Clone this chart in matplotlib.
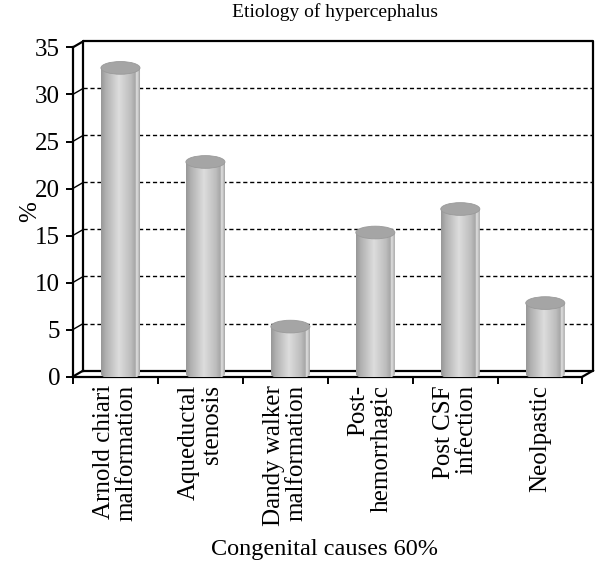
import numpy as np
import matplotlib
matplotlib.use("Agg")
import matplotlib.pyplot as plt
from matplotlib.path import Path
from matplotlib.patches import PathPatch, Ellipse
from matplotlib.colors import LinearSegmentedColormap

plt.rcParams['font.family'] = ['Liberation Serif', 'DejaVu Serif']

# datos
categorias = ["Arnold chiari\nmalformation", "Aqueductal\nstenosis",
              "Dandy walker\nmalformation", "Post-\nhemorrhagic",
              "Post CSF\ninfection", "Neolpastic"]
valores = [32.5, 22.5, 5.0, 15.0, 17.5, 7.5]
yticks = [0, 5, 10, 15, 20, 25, 30, 35]

# profundidad del efecto 3D (en unidades de datos)
dx, dy = 0.124, 0.65
ancho = 0.46      # ancho del cilindro
elip = 1.35       # alto de la elipse (unidades del eje y)
ymax = 35

fig = plt.figure(figsize=(5.96, 5.66), dpi=100)
ax = fig.add_axes([0.122, 0.3345, 0.873, 0.5925])
n = len(valores)

# ejes / spines
for s in ['top', 'right']:
    ax.spines[s].set_visible(False)
ax.spines['left'].set_bounds(0, ymax)
ax.spines['bottom'].set_bounds(0, n)
for s in ['left', 'bottom']:
    ax.spines[s].set_linewidth(1.6)
    ax.spines[s].set_zorder(2)

ax.set_yticks(yticks)
ax.set_yticklabels([str(t) for t in yticks], fontsize=18)
ax.tick_params(axis='y', direction='out', length=5, width=1.4, pad=4)
ax.set_xticks(np.arange(n + 1))
ax.set_xticklabels([])
ax.tick_params(axis='x', which='major', direction='out', length=5, width=1.4)
ax.set_xticks(np.arange(n) + 0.5, minor=True)
ax.set_xticklabels(categorias, minor=True, rotation=90, fontsize=18,
                   ha='center', va='top', multialignment='right', linespacing=1.05)
ax.tick_params(axis='x', which='minor', length=0, pad=6)

# pared del fondo y lineas de grilla
kw = dict(color='black', clip_on=False)
for t in yticks[1:-1]:
    ax.plot([dx, n + dx], [t + dy, t + dy], ls=(0, (3, 2)), lw=1.0, zorder=1, **kw)
for t in yticks[1:-1]:
    ax.plot([0, dx], [t, t + dy], lw=1.0, zorder=1, **kw)
ax.plot([dx, n + dx, n + dx, dx, dx], [dy, dy, ymax + dy, ymax + dy, dy], lw=1.6, zorder=1, **kw)
ax.plot([0, dx], [ymax, ymax + dy], lw=1.6, zorder=1, **kw)
ax.plot([0, dx], [0, dy], lw=1.6, zorder=1, **kw)
ax.plot([n, n + dx], [0, dy], lw=1.6, zorder=1, **kw)

# cilindros
cmap = LinearSegmentedColormap.from_list("cil", [
    (0.0, "#979797"), (0.12, "#b0b0b0"), (0.45, "#dddddd"),
    (0.75, "#bdbdbd"), (0.86, "#a6a6a6"), (0.89, "#e2e2e2"),
    (0.93, "#c8c8c8"), (1.0, "#8e8e8e")])
grad = np.linspace(0, 1, 256).reshape(1, -1)
theta = np.linspace(np.pi, 2 * np.pi, 60)
for i, v in enumerate(valores):
    xc = i + 0.5 + dx / 2
    y0 = dy / 2
    y1 = v + dy / 2
    xs = list(xc + ancho / 2 * np.cos(theta)) + [xc + ancho / 2, xc - ancho / 2, xc - ancho / 2]
    ys = list(y0 + elip / 2 * np.sin(theta)) + [y1, y1, y0]
    clip = PathPatch(Path(np.column_stack([xs, ys]), closed=True),
                     transform=ax.transData, facecolor='none', edgecolor='none')
    ax.add_patch(clip)
    im = ax.imshow(grad, cmap=cmap, aspect='auto', interpolation='bilinear',
                   extent=[xc - ancho / 2, xc + ancho / 2, y0 - elip / 2, y1],
                   zorder=4, clip_on=True)
    im.set_clip_path(clip)
    ax.add_patch(Ellipse((xc, y1), ancho, elip, facecolor='#a5a5a5',
                         edgecolor='#9a9a9a', lw=0.6, zorder=5))

ax.set_xlim(0, n + dx)
ax.set_ylim(0, ymax + dy)

fig.text(0.562, 1 - 12 / 566, "Etiology of hypercephalus", fontsize=14,
         ha='center', va='center')
fig.text(0.545, 1 - 549 / 566, "Congenital causes 60%", fontsize=17.5,
         ha='center', va='center')
fig.text(30 / 596, 1 - 212 / 566, "%", fontsize=18, rotation=90,
         ha='center', va='center')

fig.savefig("out.png", dpi=100)
